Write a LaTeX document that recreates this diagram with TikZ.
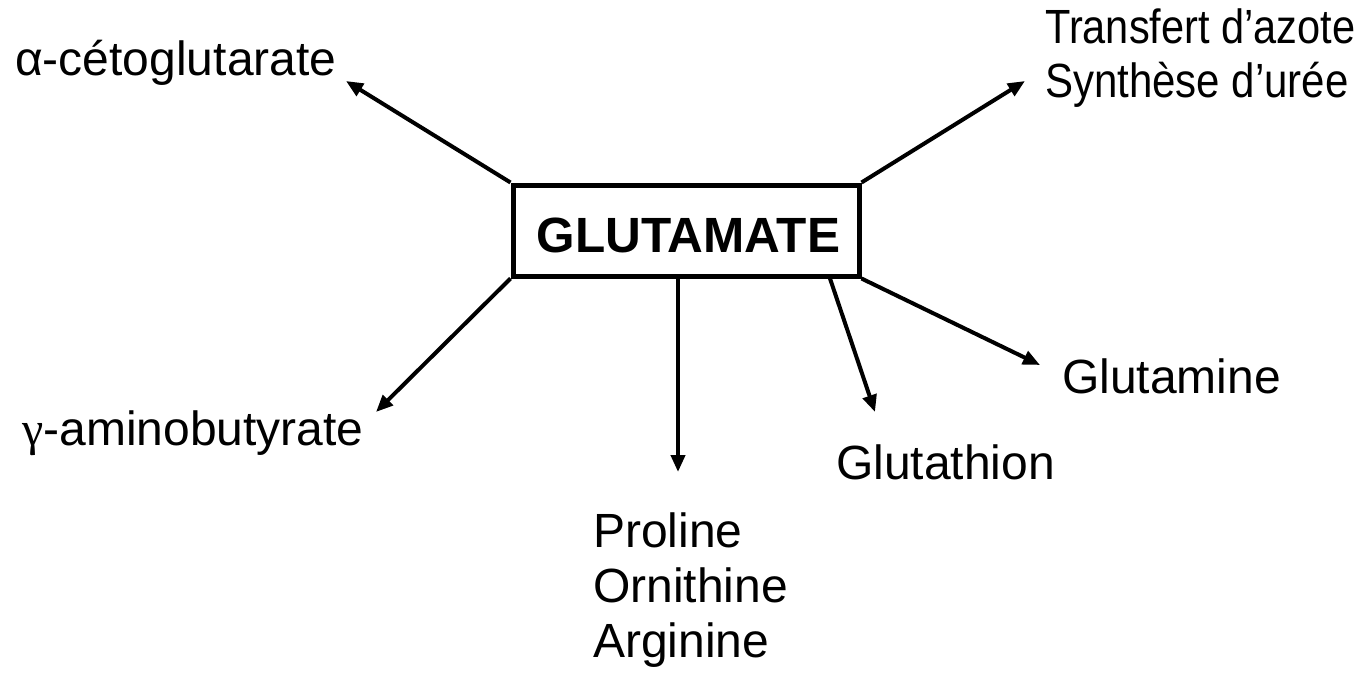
\documentclass[tikz,border=0pt]{standalone}
\usepackage{fontspec}
\setmainfont{Liberation Sans}
\newfontfamily\grk{Liberation Serif}
\usetikzlibrary{arrows.meta}
\begin{document}
\begin{tikzpicture}[x=1pt,y=-1pt,
  lbl/.style={inner sep=0pt, anchor=base west, font=\fontsize{48}{58}\selectfont, align=left},
  conn/.style={line width=4pt, -{Triangle[length=17pt,width=14pt]}},
  mainbox/.style={draw, line width=5pt, minimum width=346pt, minimum height=91pt, inner sep=0pt}]
\useasboundingbox (0,0) rectangle (1365,672);
\node[mainbox] (g) at (686,230.5) {};
\node[inner sep=0pt, anchor=base, font=\fontsize{49.5}{58}\selectfont\bfseries] (gt) at (688.5,252) {GLUTAMATE};
\node[lbl] (a) at (15,75) {α-cétoglutarate};
\node[lbl] (t) at (1045,43) {\scalebox{0.865}[1]{Transfert d’azote}};
\node[lbl] (s) at (1045,97) {\scalebox{0.875}[1]{Synthèse d’urée}};
\node[lbl] (y) at (22,445) {{\grk γ}-aminobutyrate};
\node[lbl] (p) at (593,547) {Proline};
\node[lbl] (o) at (593,602) {Ornithine};
\node[lbl] (r) at (593,657) {Arginine};
\node[lbl] (gh) at (836,479) {Glutathion};
\node[lbl] (gm) at (1062,393) {Glutamine};
\coordinate (ta) at (346,81);
\coordinate (tt) at (1025,81);
\coordinate (ty) at (376,412);
\coordinate (tp) at (678,472);
\coordinate (tgh) at (875,412);
\coordinate (tgm) at (1040,365);
\draw[conn] (g.north west) -- (ta);
\draw[conn] (g.north east) -- (tt);
\draw[conn] (g.south west) -- (ty);
\draw[conn] (g.south -| tp) -- (tp);
\draw[conn] ([xshift=144pt]g.south) -- (tgh);
\draw[conn] (g.south east) -- (tgm);
\end{tikzpicture}
\end{document}
